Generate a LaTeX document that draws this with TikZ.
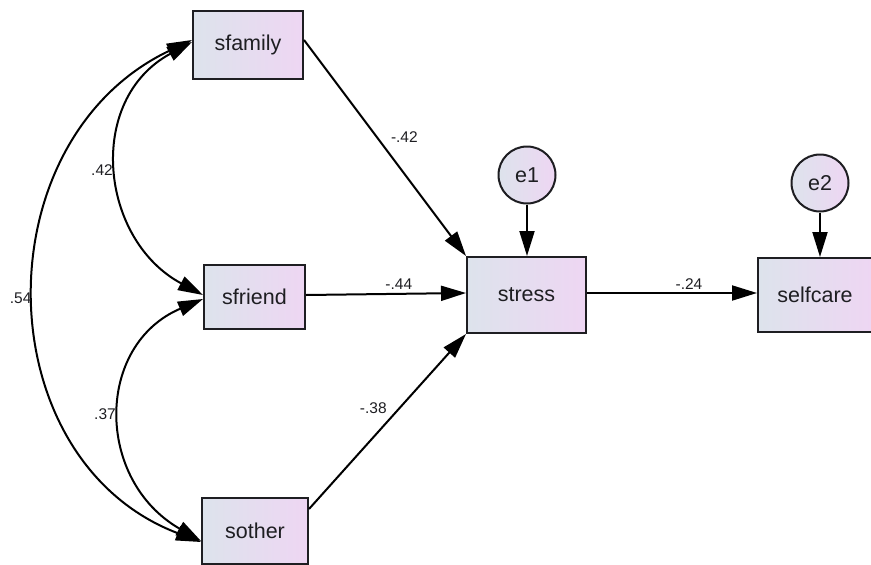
\documentclass[tikz,border=0pt]{standalone}
\usepackage{fontspec}
\setmainfont{Liberation Sans}
\usetikzlibrary{arrows.meta,calc}
\definecolor{boxl}{RGB}{221,227,236}
\definecolor{boxr}{RGB}{238,214,243}
\definecolor{ink}{RGB}{30,30,34}
\begin{document}
\begin{tikzpicture}[x=1pt,y=-1pt,
  obs/.style={draw=ink,line width=2pt,left color=boxl,right color=boxr,
    text=ink,font=\fontsize{21.5}{25}\selectfont,inner sep=0pt},
  err/.style={obs,circle,minimum size=57pt},
  reg/.style={line width=2pt,-{Triangle[length=25pt,width=15pt]}},
  cov/.style={line width=2pt,{Triangle[length=25pt,width=15pt]}-{Triangle[length=25pt,width=15pt]}},
  lab/.style={text=ink,font=\fontsize{15.5}{18}\selectfont}]
\useasboundingbox (0,0) rectangle (871,565);
\node[obs,minimum width=110pt,minimum height=68pt] (sfamily) at (248,45) {sfamily};
\node[obs,minimum width=101pt,minimum height=64pt] (sfriend) at (254.5,297) {sfriend};
\node[obs,minimum width=106pt,minimum height=66pt] (sother) at (255,531) {sother};
\node[obs,minimum width=119pt,minimum height=76pt] (stress) at (526.5,295) {stress};
\node[obs,minimum width=114pt,minimum height=74pt] (selfcare) at (815,295) {selfcare};
\node[err] (e1) at (527,175) {e1};
\node[err] (e2) at (820,183) {e2};

\draw[reg] ([yshift=5pt]sfamily.east) -- node[lab,pos=0.5,above right,inner sep=5pt]{-.42} (stress.north west);
\draw[reg] ([yshift=2pt]sfriend.east) -- node[lab,pos=0.58,above,inner sep=3pt]{-.44} ([yshift=2pt]stress.west);
\draw[reg] ([yshift=-12pt]sother.north east) -- node[lab,pos=0.52,above left,inner sep=3pt]{-.38} (stress.south west);
\draw[reg] ([yshift=2pt]stress.east) -- node[lab,pos=0.6,above,inner sep=3pt]{-.24} ([yshift=2pt]selfcare.west);
\draw[reg] (e1.south) -- (e1.south |- stress.north);
\draw[reg] (e2.south) -- (e2.south |- selfcare.north);

\draw[cov] ([yshift=3pt]sfamily.west) .. controls (85,100) and (100,240) .. node[lab,pos=0.5,left,inner sep=5pt]{.42} ([yshift=2pt]sfriend.west);
\draw[cov] ([yshift=-2pt]sfriend.west) .. controls (95,345) and (95,480) .. node[lab,pos=0.5,left,inner sep=5pt]{.37} ([yshift=-10pt]sother.west);
\draw[cov] ([yshift=5pt]sfamily.west) .. controls (-19,140) and (-15,460) .. node[lab,pos=0.5,left,inner sep=4pt]{.54} ([yshift=-11pt]sother.west);
\end{tikzpicture}
\end{document}
